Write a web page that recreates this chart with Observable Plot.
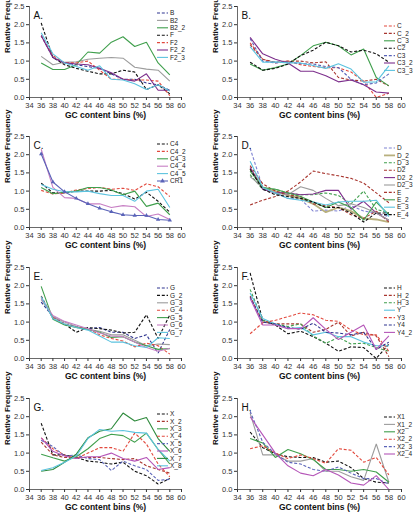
<!DOCTYPE html>
<html>
<head>
<meta charset="utf-8">
<script src="https://cdn.jsdelivr.net/npm/d3@7"></script>
<script src="https://cdn.jsdelivr.net/npm/@observablehq/plot@0.6"></script>
<style>
  html, body { margin: 0; padding: 0; background: #fff; }
  #chart { position: relative; width: 417px; height: 513px; overflow: hidden; }
  #chart svg { position: absolute; }
</style>
</head>
<body>
<div id="chart"></div>
<script>
// ---------- shared axes ----------
const bins = [36, 38, 40, 42, 44, 46, 48, 50, 52, 54, 56, 58];
const xTicks = [34, 36, 38, 40, 42, 44, 46, 48, 50, 52, 54, 56, 58, 60];
const yTicks = [0, 0.5, 1, 1.5, 2, 2.5];
const xTitle = "GC content bins (%)";
const yTitle = "Relative Frequency";

// ---------- Panel A ----------
const namesA = ["B", "B2", "B2_2", "F", "F2", "F2_2", "F2_3"];
const valuesA = [
  [1.70, 1.10, 0.95, 0.90, 0.85, 0.80, 0.65, 0.50, 0.50, 0.40, 0.35, 0.20],
  [1.13, 0.90, 0.97, 0.98, 1.05, 1.08, 1.10, 1.08, 0.83, 0.78, 0.75, 0.45],
  [0.95, 0.77, 0.77, 0.90, 1.25, 1.22, 1.52, 1.67, 1.40, 1.52, 0.95, 0.62],
  [2.05, 1.10, 0.90, 0.80, 0.72, 0.65, 0.65, 0.75, 0.70, 0.22, 0.35, 0.10],
  [1.70, 1.15, 0.95, 0.95, 1.00, 0.75, 0.50, 0.50, 0.48, 0.48, 0.45, 0.05],
  [1.70, 1.10, 0.95, 0.92, 0.90, 0.80, 0.68, 0.50, 0.45, 0.65, 0.20, 0.20],
  [1.78, 1.20, 0.95, 0.85, 0.75, 0.87, 0.50, 0.48, 0.38, 0.22, 0.35, 0.18]
];
// ---------- Panel B ----------
const namesB = ["C", "C_2", "C_3", "C2", "C3", "C3_2", "C3_3"];
const valuesB = [
  [1.50, 1.05, 0.95, 1.00, 0.90, 0.85, 0.82, 0.82, 0.70, 0.45, 0.00, 0.12],
  [1.45, 1.05, 0.97, 1.00, 1.00, 0.95, 0.98, 0.55, 0.48, 0.45, 0.50, 0.32],
  [0.92, 0.75, 0.82, 0.92, 1.15, 1.42, 1.52, 1.42, 1.17, 1.33, 0.55, 0.32],
  [0.97, 0.75, 0.80, 0.92, 1.15, 1.30, 1.52, 1.42, 1.25, 1.30, 1.20, 0.97],
  [1.62, 1.00, 0.95, 0.98, 0.93, 0.92, 0.85, 0.82, 0.50, 0.35, 0.40, 0.65],
  [1.65, 1.20, 1.05, 0.95, 0.72, 0.72, 0.60, 0.43, 0.48, 0.35, 0.15, 0.12],
  [1.40, 0.97, 0.98, 0.95, 0.95, 0.88, 0.80, 0.93, 0.78, 0.42, 0.43, 0.87]
];
// ---------- Panel C ----------
const namesC = ["C4", "C4_2", "C4_3", "C4_4", "C4_5", "CR1"];
const valuesC = [
  [1.22, 0.95, 0.95, 1.00, 1.00, 1.00, 1.02, 0.93, 0.78, 0.97, 0.72, 0.42],
  [1.02, 0.92, 0.95, 1.03, 1.07, 1.10, 1.05, 1.08, 1.02, 1.20, 1.12, 0.85],
  [1.10, 0.93, 0.97, 1.00, 1.10, 1.10, 1.03, 0.90, 1.00, 0.58, 0.67, 0.35],
  [2.15, 1.10, 0.82, 0.80, 0.65, 0.65, 0.55, 0.60, 0.57, 0.30, 0.37, 0.22],
  [1.18, 1.05, 0.98, 0.98, 1.00, 0.93, 0.88, 0.88, 0.72, 1.00, 1.05, 0.55],
  [2.02, 1.25, 0.98, 0.80, 0.65, 0.53, 0.43, 0.35, 0.33, 0.33, 0.22, 0.20]
];
// ---------- Panel D ----------
const namesD = ["D", "D_2", "D_3", "D2", "D2_2", "D2_3", "E", "E_2", "E_3", "E_4"];
const valuesD = [
  [2.18, 1.10, 0.95, 0.80, 0.78, 0.45, 0.48, 0.45, 0.60, 0.45, 0.40, 0.30],
  [1.62, 1.10, 1.00, 0.88, 0.80, 0.65, 0.42, 0.55, 0.45, 0.25, 0.22, 0.15],
  [1.45, 1.05, 1.05, 0.95, 0.90, 0.90, 0.95, 0.88, 0.65, 1.00, 0.50, 0.40],
  [1.70, 1.20, 1.00, 0.90, 0.85, 0.65, 0.60, 0.55, 0.35, 0.25, 0.45, 0.15],
  [1.65, 1.05, 0.95, 0.95, 0.90, 0.92, 1.02, 1.02, 0.50, 0.72, 0.40, 0.20],
  [1.40, 1.10, 0.95, 0.90, 1.12, 1.02, 0.80, 0.60, 0.65, 0.55, 0.40, 0.20],
  [0.62, 0.75, 0.85, 1.00, 1.25, 1.55, 1.48, 1.42, 1.35, 1.22, 0.95, 0.68],
  [1.55, 1.10, 1.05, 0.95, 0.85, 0.70, 0.55, 0.70, 0.55, 0.20, 0.70, 0.35],
  [1.82, 1.10, 0.95, 0.80, 0.75, 0.70, 0.62, 0.70, 0.72, 0.72, 0.75, 0.30],
  [1.60, 1.05, 0.90, 0.85, 0.80, 0.70, 0.55, 0.55, 0.40, 0.15, 0.40, 0.40]
];
// ---------- Panel E ----------
const namesE = ["G", "G_2", "G_3", "G_4", "G_5", "G_6", "G_7"];
const valuesE = [
  [1.55, 1.15, 0.95, 0.88, 0.82, 0.85, 0.72, 0.72, 0.55, 0.65, 0.15, 0.80],
  [1.72, 1.10, 0.95, 0.72, 0.85, 0.82, 0.78, 0.70, 0.72, 1.20, 0.55, 1.20],
  [1.62, 1.15, 1.00, 0.88, 0.80, 0.75, 0.65, 0.65, 0.50, 0.35, 0.40, 0.38],
  [1.70, 1.12, 0.95, 0.85, 0.82, 0.65, 0.55, 0.48, 0.32, 0.42, 0.35, 0.12],
  [1.98, 1.08, 0.92, 0.85, 0.80, 0.72, 0.58, 0.60, 0.45, 0.35, 0.25, 0.27],
  [1.65, 1.18, 1.02, 0.92, 0.82, 0.70, 0.62, 0.60, 0.45, 0.30, 0.20, 0.28],
  [1.70, 1.10, 0.95, 0.85, 0.78, 0.62, 0.45, 0.45, 0.35, 0.30, 0.57, 0.55]
];
// ---------- Panel F ----------
const namesF = ["H", "H_2", "H_3", "Y", "Y3", "Y4", "Y4_2"];
const valuesF = [
  [2.35, 1.05, 0.92, 0.68, 0.75, 0.60, 0.42, 0.20, 0.32, 0.30, 0.00, 0.40],
  [1.72, 1.00, 0.95, 0.95, 0.95, 0.72, 0.80, 1.00, 0.62, 0.72, 0.62, 0.05],
  [1.90, 1.05, 0.95, 0.88, 0.95, 0.62, 0.42, 0.58, 0.40, 0.42, 0.30, 0.20],
  [1.80, 1.10, 0.95, 0.82, 0.85, 0.65, 0.72, 0.60, 0.60, 0.45, 0.35, 0.35],
  [0.68, 0.98, 1.05, 1.15, 1.25, 1.20, 1.05, 1.02, 0.78, 0.65, 0.65, 0.20],
  [1.68, 1.00, 0.95, 0.85, 0.80, 0.97, 0.72, 0.70, 0.65, 0.72, 0.25, 0.45],
  [1.65, 0.92, 0.92, 0.82, 0.82, 1.12, 0.80, 0.52, 0.72, 0.92, 0.25, 0.62]
];
// ---------- Panel G ----------
const namesG = ["X", "X_2", "X_3", "X_4", "X_5", "X_6", "X_7", "X_8"];
const valuesG = [
  [1.82, 0.95, 0.95, 0.88, 0.78, 0.75, 0.70, 0.75, 0.50, 0.38, 0.15, 0.30],
  [1.30, 0.95, 0.88, 0.88, 0.88, 0.88, 0.85, 0.82, 0.85, 0.65, 0.55, 0.45],
  [0.97, 0.87, 0.78, 0.90, 1.12, 1.40, 1.52, 1.48, 1.30, 1.55, 1.10, 0.70],
  [1.42, 1.12, 0.95, 0.85, 1.00, 1.15, 1.15, 1.05, 1.55, 1.25, 0.70, 0.35],
  [1.35, 1.18, 0.92, 0.95, 0.85, 0.82, 0.52, 0.78, 0.65, 0.55, 0.25, 0.28],
  [1.42, 1.05, 0.92, 0.85, 0.90, 0.90, 1.00, 0.85, 0.78, 0.88, 0.55, 0.60],
  [0.50, 0.55, 0.75, 0.97, 1.42, 1.60, 1.67, 2.10, 1.88, 1.98, 1.40, 1.05],
  [0.52, 0.60, 0.75, 0.92, 1.40, 1.65, 1.60, 1.62, 1.57, 1.55, 1.10, 0.78]
];
// ---------- Panel H ----------
const namesH = ["X1", "X1_2", "X2", "X2_2", "X2_3", "X2_4"];
const valuesH = [
  [1.58, 1.15, 0.98, 0.90, 0.88, 0.88, 0.75, 0.78, 0.60, 0.30, 0.20, 0.18],
  [2.10, 0.95, 0.95, 0.78, 0.78, 0.85, 0.50, 0.50, 0.35, 0.25, 1.25, 0.20],
  [1.40, 1.28, 0.88, 1.10, 0.98, 0.82, 0.55, 0.55, 0.50, 0.55, 0.48, 0.20],
  [1.12, 1.20, 1.00, 0.85, 0.95, 0.85, 0.72, 1.12, 1.08, 0.75, 0.88, 0.40],
  [2.15, 1.30, 0.98, 0.75, 0.70, 0.55, 0.50, 0.62, 0.45, 0.30, 0.30, 0.15],
  [2.00, 1.50, 1.00, 0.65, 0.45, 0.38, 0.55, 0.40, 0.18, 0.12, 0.38, 0.00]
];

// ---------- styles (kept apart from data) ----------
const C = {
  navy: "#2f3590", gray: "#9c9c9c", green: "#3f9f4c", black: "#111111",
  red: "#e2483c", purple: "#7d2f8c", cyan: "#5cc3df", darkred: "#a8362f",
  blue: "#5a63b8", lavender: "#7f83d2", olive: "#b8b07e", pink: "#c77fc4",
  magenta: "#b556b8", darkgreen: "#2e8a3c"
};
const S = (color, dashed, w = 1.1) => ({color, dash: dashed ? "3,1.8" : null, w});
const stylesA = [S(C.navy,1), S(C.gray,0), S(C.green,0), S(C.black,1), S(C.red,1), S(C.purple,0), S(C.cyan,0)];
const stylesB = [S(C.red,1), S(C.darkred,1), S(C.green,0), S(C.black,1), S(C.blue,1), S(C.purple,0), S(C.cyan,0)];
const stylesC = [S(C.black,1), S(C.red,1), S(C.green,0), S(C.pink,0), S(C.cyan,0), S(C.blue,0)];
const stylesD = [S(C.lavender,1), S(C.olive,0,1.8), S(C.green,1), S(C.darkred,1), S(C.purple,0), S(C.gray,0), S(C.darkred,1), S(C.green,0), S(C.cyan,0), S(C.black,1)];
const stylesE = [S(C.navy,1), S(C.black,1), S(C.gray,0), S(C.red,1), S(C.green,0), S(C.pink,0), S(C.cyan,0)];
const stylesF = [S(C.black,1), S(C.darkred,1), S(C.green,1), S(C.cyan,0), S(C.red,1), S(C.navy,1), S(C.magenta,0)];
const stylesG = [S(C.black,1), S(C.darkred,1), S(C.green,0), S(C.red,1), S(C.blue,1), S(C.magenta,0), S(C.darkgreen,0), S(C.cyan,0)];
const stylesH = [S(C.black,1), S(C.gray,0), S(C.green,0), S(C.red,1), S(C.blue,1), S(C.magenta,0)];

const FONT = "'Liberation Sans', Arial, Helvetica, sans-serif";

function panel({label, names, values, styles, col, row, legendY, markerSeries}) {
  const left = col === 0 ? 0 : 208;
  const width = col === 0 ? 208 : 209;
  const marginRight = col === 0 ? 27 : 16;
  const top = [0, 130, 261, 392][row];

  const rows = [];
  names.forEach((n, i) => values[i].forEach((v, j) => rows.push({series: n, idx: i, gc: bins[j], v})));

  const lineMarks = names.map((n, i) => Plot.line(rows.filter(d => d.idx === i), {
    x: "gc", y: "v", stroke: styles[i].color, strokeWidth: styles[i].w,
    strokeDasharray: styles[i].dash, strokeLinejoin: "miter", strokeLinecap: "butt"
  }));
  const extra = [];
  if (markerSeries != null) {
    extra.push(Plot.dot(rows.filter(d => d.series === markerSeries), {
      x: "gc", y: "v", symbol: "triangle", r: 1.6, fill: styles[names.indexOf(markerSeries)].color, stroke: "none"
    }));
  }

  const svg = Plot.plot({
    width, height: 121,
    marginTop: 6, marginBottom: 24, marginLeft: 29, marginRight,
    style: {fontFamily: FONT, fontSize: "7.5px", color: "#333", background: "transparent", overflow: "visible"},
    x: {domain: [34, 60], ticks: xTicks, tickSize: 3, tickPadding: 2, tickFormat: d => String(d), label: null},
    y: {domain: [0, 2.5], ticks: yTicks, tickSize: 3, tickPadding: 2, tickFormat: d3.format(".1f"), label: null},
    marks: [
      ...lineMarks,
      ...extra,
      Plot.ruleX([34], {stroke: "#444", strokeWidth: 0.8}),
      Plot.ruleY([0], {stroke: "#444", strokeWidth: 0.8}),
      Plot.text([label], {frameAnchor: "top-left", dx: 4, dy: 5, fontSize: 10, fill: "#111", textAnchor: "start"}),
      Plot.text([xTitle], {frameAnchor: "bottom", dy: 20, fontSize: 8.5, fontWeight: "bold", fill: "#111"}),
      Plot.text([yTitle], {frameAnchor: "left", dx: -22, dy: 1, rotate: -90, fontSize: 8, fontWeight: "bold", fill: "#111"})
    ]
  });
  svg.style.left = left + "px";
  svg.style.top = top + "px";

  // legend
  const lx0 = col === 0 ? 157 : 176;
  const g = d3.select(svg).append("g")
    .attr("font-family", FONT).attr("font-size", "6.5px").attr("text-anchor", "start");
  names.forEach((n, i) => {
    const y = legendY + i * 7.4;
    g.append("line").attr("x1", lx0).attr("x2", lx0 + 11).attr("y1", y).attr("y2", y)
      .attr("stroke", styles[i].color).attr("stroke-width", styles[i].w)
      .attr("stroke-dasharray", styles[i].dash);
    if (n === markerSeries) {
      g.append("path").attr("d", d3.symbol(d3.symbolTriangle, 10)()).attr("transform", `translate(${lx0 + 5.5},${y})`)
        .attr("fill", styles[i].color);
    }
    g.append("text").attr("x", lx0 + 13).attr("y", y).attr("dy", "0.35em")
      .attr("text-anchor", "start").attr("fill", "#222").text(n);
  });
  document.getElementById("chart").appendChild(svg);
}

panel({label: "A.", names: namesA, values: valuesA, styles: stylesA, col: 0, row: 0, legendY: 13});
panel({label: "B.", names: namesB, values: valuesB, styles: stylesB, col: 1, row: 0, legendY: 26});
panel({label: "C.", names: namesC, values: valuesC, styles: stylesC, col: 0, row: 1, legendY: 14, markerSeries: "CR1"});
panel({label: "D.", names: namesD, values: valuesD, styles: stylesD, col: 1, row: 1, legendY: 18});
panel({label: "E.", names: namesE, values: valuesE, styles: stylesE, col: 0, row: 2, legendY: 27});
panel({label: "F.", names: namesF, values: valuesF, styles: stylesF, col: 1, row: 2, legendY: 27});
panel({label: "G.", names: namesG, values: valuesG, styles: stylesG, col: 0, row: 3, legendY: 22});
panel({label: "H.", names: namesH, values: valuesH, styles: stylesH, col: 1, row: 3, legendY: 25});
</script>
</body>
</html>
